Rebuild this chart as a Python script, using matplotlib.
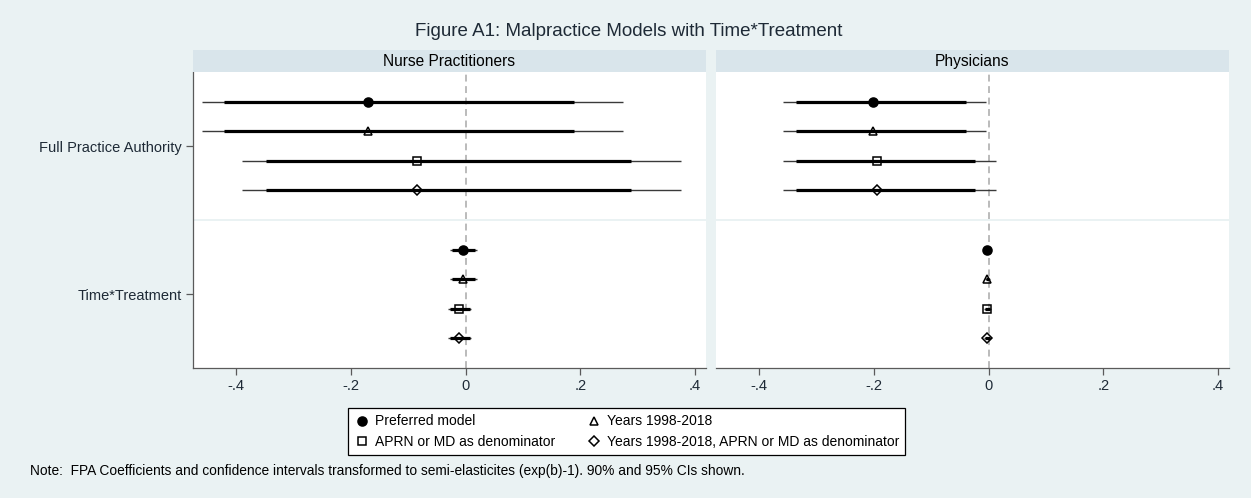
import matplotlib
matplotlib.use("Agg")
import matplotlib.pyplot as plt
from matplotlib.lines import Line2D
from matplotlib.patches import Rectangle

# model specifications (legend order)
models = [
    "Preferred model",
    "Years 1998-2018",
    "APRN or MD as denominator",
    "Years 1998-2018, APRN or MD as denominator",
]
model_markers = ["o", "^", "s", "D"]
model_ms = [6.5, 5.5, 6.0, 5.2]
model_filled = [True, False, False, False]

coef_labels = ["Full Practice Authority", "Time*Treatment"]
panel_titles = ["Nurse Practitioners", "Physicians"]

# Nurse practitioners: estimate, 95% CI, 90% CI (FPA then Time*Treatment)
np_fpa_est = [-0.170, -0.170, -0.084, -0.084]
np_fpa_lo95 = [-0.459, -0.459, -0.389, -0.389]
np_fpa_hi95 = [0.274, 0.274, 0.376, 0.376]
np_fpa_lo90 = [-0.421, -0.421, -0.347, -0.347]
np_fpa_hi90 = [0.189, 0.189, 0.289, 0.289]

np_tt_est = [-0.004, -0.004, -0.011, -0.011]
np_tt_lo95 = [-0.028, -0.028, -0.031, -0.031]
np_tt_hi95 = [0.020, 0.020, 0.010, 0.010]
np_tt_lo90 = [-0.024, -0.024, -0.027, -0.027]
np_tt_hi90 = [0.016, 0.016, 0.007, 0.007]

# Physicians
md_fpa_est = [-0.201, -0.201, -0.194, -0.194]
md_fpa_lo95 = [-0.359, -0.359, -0.359, -0.359]
md_fpa_hi95 = [-0.005, -0.005, 0.013, 0.013]
md_fpa_lo90 = [-0.335, -0.335, -0.335, -0.335]
md_fpa_hi90 = [-0.040, -0.040, -0.024, -0.024]

md_tt_est = [-0.002, -0.002, -0.002, -0.002]
md_tt_lo95 = [-0.006, -0.006, -0.008, -0.008]
md_tt_hi95 = [0.002, 0.002, 0.005, 0.005]
md_tt_lo90 = [-0.005, -0.005, -0.006, -0.006]
md_tt_hi90 = [0.001, 0.001, 0.003, 0.003]

xticks = [-0.4, -0.2, 0.0, 0.2, 0.4]
xticklabels = ["-.4", "-.2", "0", ".2", ".4"]

BG = "#EAF2F3"
STRIP = "#D9E5EB"
TEXT = "#1E2A36"
AXIS = "#5A5A5A"

plt.rcParams["font.family"] = ["Liberation Sans", "DejaVu Sans"]

W, H = 1251, 498
fig = plt.figure(figsize=(W / 100, H / 100), dpi=100, facecolor=BG)


def draw_group(ax, base, est, lo95, hi95, lo90, hi90):
    for i in range(len(models)):
        y = base + i + 1
        ax.plot([lo95[i], hi95[i]], [y, y], color="#3A3A3A", lw=1.0, zorder=2, solid_capstyle="butt")
        ax.plot([lo90[i], hi90[i]], [y, y], color="black", lw=2.3, zorder=3, solid_capstyle="butt")
        ax.plot(
            est[i], y,
            marker=model_markers[i], ms=model_ms[i],
            mfc="black" if model_filled[i] else "none",
            mec="black", mew=1.1, ls="none", zorder=4,
        )


panels = [
    (np_fpa_est, np_fpa_lo95, np_fpa_hi95, np_fpa_lo90, np_fpa_hi90,
     np_tt_est, np_tt_lo95, np_tt_hi95, np_tt_lo90, np_tt_hi90),
    (md_fpa_est, md_fpa_lo95, md_fpa_hi95, md_fpa_lo90, md_fpa_hi90,
     md_tt_est, md_tt_lo95, md_tt_hi95, md_tt_lo90, md_tt_hi90),
]

lefts = [193 / W, 716 / W]
ax_w = 512.5 / W
ax_b = 1 - 368 / H
ax_h = (368 - 72) / H
strip_b = 1 - 72 / H
strip_h = (72 - 50.5) / H

for k, (left, title, data) in enumerate(zip(lefts, panel_titles, panels)):
    ax = fig.add_axes([left, ax_b, ax_w, ax_h], facecolor="white")
    draw_group(ax, 0, *data[:5])
    draw_group(ax, 5, *data[5:])
    ax.axvline(0, color="#A8A8A8", lw=1.1, ls=(0, (4.5, 3)), zorder=1)
    ax.axhline(5, color=BG, lw=1.4, zorder=1)
    ax.set_xlim(-0.475, 0.418)
    ax.set_ylim(10, 0)
    ax.set_xticks(xticks)
    ax.set_xticklabels(xticklabels, fontsize=10.5, color=TEXT)
    ax.tick_params(axis="x", length=5, width=0.9, color=AXIS, pad=3)
    for s in ("top", "right"):
        ax.spines[s].set_visible(False)
    ax.spines["bottom"].set_color(AXIS)
    ax.spines["bottom"].set_linewidth(0.9)
    if k == 0:
        ax.set_yticks([2.5, 7.5])
        ax.set_yticklabels(coef_labels, fontsize=10.5, color=TEXT)
        ax.tick_params(axis="y", length=5, width=0.9, color=AXIS, pad=3)
        ax.spines["left"].set_color(AXIS)
        ax.spines["left"].set_linewidth(0.9)
    else:
        ax.set_yticks([])
        ax.spines["left"].set_visible(False)

    fig.patches.append(Rectangle((left, strip_b), ax_w, strip_h, transform=fig.transFigure,
                                 facecolor=STRIP, edgecolor="none", zorder=0))
    fig.text(left + ax_w / 2, strip_b + strip_h / 2, title, ha="center", va="center",
             fontsize=11.2, color="black")

fig.text(629 / W, 1 - 32 / H, "Figure A1: Malpractice Models with Time*Treatment",
         ha="center", va="center", fontsize=13.5, color=TEXT)

handles = [
    Line2D([], [], marker=m, ms=s, mfc="black" if f else "none", mec="black", mew=1.1, ls="none")
    for m, s, f in zip(model_markers, model_ms, model_filled)
]
order = [0, 2, 1, 3]
leg = fig.legend(
    [handles[i] for i in order], [models[i] for i in order],
    ncol=2, loc="center", bbox_to_anchor=(626.5 / W, 1 - 431.5 / H),
    frameon=True, fancybox=False, edgecolor="black", facecolor="white",
    fontsize=10, handlelength=1.2, handletextpad=0.3, columnspacing=2.2,
    labelspacing=0.45, borderpad=0.45,
)
leg.get_frame().set_linewidth(0.9)
leg.get_frame().set_alpha(1)

fig.text(30 / W, 1 - 471 / H,
         "Note:  FPA Coefficients and confidence intervals transformed to semi-elasticites (exp(b)-1). 90% and 95% CIs shown.",
         ha="left", va="center", fontsize=9.9, color="black")

fig.savefig("out.png", dpi=100, facecolor=BG)
